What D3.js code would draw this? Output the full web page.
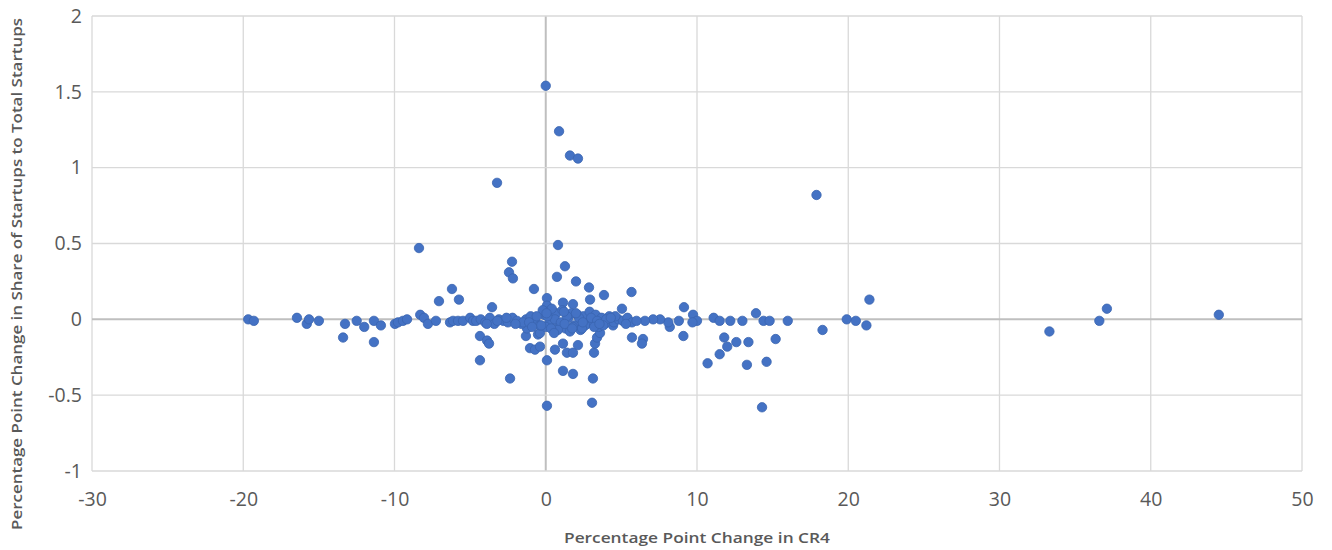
<!DOCTYPE html>
<html>
<head>
<meta charset="utf-8">
<script src="https://cdn.jsdelivr.net/npm/d3@7"></script>
<style>
  html, body { margin: 0; padding: 0; background: #fff; }
  svg { display: block; }
  text { font-family: "Open Sans", "Noto Sans", sans-serif; }
</style>
</head>
<body>
<svg id="chart" width="1332" height="550"></svg>
<script>
// ---- Data ----
const xTicks = [-30, -20, -10, 0, 10, 20, 30, 40, 50];
const xTickLabels = ["-30", "-20", "-10", "0", "10", "20", "30", "40", "50"];
const yTicks = [-1, -0.5, 0, 0.5, 1, 1.5, 2];
const yTickLabels = ["-1", "-0.5", "0", "0.5", "1", "1.5", "2"];
const xTitle = "Percentage Point Change in CR4";
const yTitle = "Percentage Point Change in Share of Startups to Total Startups";

// Change in CR4 (x) and change in startup share (y)
const cr4Change = [
  0.0, 0.88, 1.6, 2.13, -3.22, 17.9, -8.38, 0.81, -2.23, -2.43, -2.17, 1.27, 0.74, 2.0, 2.86, 3.85, 5.67,
  -6.2, -5.74, -7.06, -0.78, 0.08, 0.08, 1.14, 1.8, 2.93, 5.04, -3.55, 9.14, 9.74, 13.9,
  21.4, 19.9, 20.5, 21.2, 18.3, 33.3, 36.6, 37.1, 44.5, 16.0, 15.2, 14.6, 14.3, 13.3, 13.4, 12.6,
  14.4, 14.8, 13.0, 12.2, 10.7, 11.5, 11.8, 12.0, 11.1, 11.5, 10.0, 9.7, 9.1, 8.8, 8.2, 8.1,
  7.56, 7.1, 6.56, 6.43, 6.36, 5.7, 4.4, 4.45, 0.08, 3.06, 3.12, -2.36, -4.35, 0.08, 1.14, 1.8,
  1.4, 1.8, 0.61, 1.14, 2.13, 3.19, 3.26, 3.39, 3.59, -1.04, -0.71, -0.38, -0.51, -4.35, -3.88, -3.75,
  -1.31, -1.24, -0.38,
  -19.67, -19.3, -16.45, -15.8, -15.65, -15.0, -13.4, -13.27, -12.5, -12.0, -11.36, -11.36, -10.9,
  -9.97, -9.77, -9.44, -9.17, -8.3, -8.05, -7.79, -7.26, -6.33, -6.13, -5.8, -5.47, -5.0, -4.81,
  -4.6, -4.3, -4.0, -3.7, -3.4, -3.1, -2.8, -2.5, -2.2, -1.9, -1.6, -1.3, -1.0, -0.7, -0.4, -0.1,
  0.1, 0.3, 0.5, 0.7, 0.9, 1.1, 1.3, 1.5, 1.7, 1.9, 2.1, 2.3, 2.5, 2.7, 2.9, 3.1, 3.3, 3.5, 3.7, 3.9,
  4.2, 4.5, 4.8, 5.1, 5.4, 5.7, 6.0,
  0.2, 0.6, 1.0, 1.4, 1.8, 2.2, 2.6, 3.0, 3.4, 0.4, 1.2, 2.0, -0.2, -0.6, -1.5, -2.6, -3.2, 4.0, 4.6,
  5.3, 0.0, 0.8, 1.6, 2.4, 3.2, 3.8, -0.3, 0.1, 0.05,
  -3.9, -2.0, -1.1, 0.35, 1.25, 2.45, 3.55, 4.3, -0.9, 0.55, 1.75
];
const startupShareChange = [
  1.54, 1.24, 1.08, 1.06, 0.90, 0.82, 0.47, 0.49, 0.38, 0.31, 0.27, 0.35, 0.28, 0.25, 0.21, 0.16, 0.18,
  0.20, 0.13, 0.12, 0.20, 0.14, 0.09, 0.11, 0.10, 0.13, 0.07, 0.08, 0.08, 0.03, 0.04,
  0.13, 0.0, -0.01, -0.04, -0.07, -0.08, -0.01, 0.07, 0.03, -0.01, -0.13, -0.28, -0.58, -0.30, -0.15, -0.15,
  -0.01, -0.01, -0.01, -0.01, -0.29, -0.23, -0.12, -0.18, 0.01, -0.01, -0.01, -0.02, -0.11, -0.01, -0.05, -0.02,
  0.0, 0.0, -0.01, -0.13, -0.16, -0.12, -0.02, -0.04, -0.57, -0.55, -0.39, -0.39, -0.27, -0.27, -0.34, -0.36,
  -0.22, -0.22, -0.20, -0.16, -0.17, -0.22, -0.16, -0.12, -0.09, -0.19, -0.20, -0.18, -0.10, -0.11, -0.14, -0.16,
  -0.11, -0.06, -0.09,
  0.0, -0.01, 0.01, -0.03, 0.0, -0.01, -0.12, -0.03, -0.01, -0.05, -0.15, -0.01, -0.04,
  -0.03, -0.02, -0.01, 0.0, 0.03, 0.01, -0.03, -0.01, -0.02, -0.01, -0.01, -0.01, 0.01, -0.01,
  -0.01, 0.0, -0.02, 0.01, -0.03, 0.0, -0.01, -0.02, 0.01, -0.01, -0.03, 0.0, 0.02, -0.02, -0.04, 0.03,
  0.05, -0.05, 0.02, 0.04, -0.03, 0.06, -0.06, 0.01, 0.04, -0.04, 0.03, -0.07, 0.02, -0.03, 0.05, -0.02, 0.03, -0.05, 0.01, -0.03,
  0.02, -0.02, 0.0, -0.01, 0.01, -0.02, -0.01,
  -0.03, 0.0, -0.02, 0.02, -0.05, 0.01, -0.04, 0.01, -0.01, 0.07, 0.05, 0.04, 0.06, 0.02, -0.02, 0.01, -0.01, 0.0, 0.02,
  -0.03, -0.05, -0.07, -0.08, -0.06, -0.05, -0.04, -0.04, 0.02, 0.04,
  -0.03, -0.03, -0.02, -0.06, -0.03, -0.02, -0.03, 0.01, -0.05, -0.09, -0.06
];

const points = cr4Change.map((x, i) => ({ x, y: startupShareChange[i] }));

// ---- Layout ----
const svg = d3.select("#chart");
const margin = { left: 92, right: 30, top: 16, bottom: 79 };
const W = 1332, H = 550;

const x = d3.scaleLinear().domain([-30, 50]).range([margin.left, W - margin.right]);
const y = d3.scaleLinear().domain([-1, 2]).range([H - margin.bottom, margin.top]);

// Gridlines
const grid = svg.append("g");
grid.selectAll("line.vx").data(xTicks).join("line")
  .attr("x1", d => x(d)).attr("x2", d => x(d))
  .attr("y1", y(-1)).attr("y2", y(2))
  .attr("stroke", d => d === 0 ? "#bfbfbf" : "#d9d9d9")
  .attr("stroke-width", d => d === 0 ? 2 : 1.3);
grid.selectAll("line.hy").data(yTicks).join("line")
  .attr("x1", x(-30)).attr("x2", x(50))
  .attr("y1", d => y(d)).attr("y2", d => y(d))
  .attr("stroke", d => d === 0 ? "#bfbfbf" : "#d9d9d9")
  .attr("stroke-width", d => d === 0 ? 2 : 1.3);

// Axes (labels only)
const xAxis = d3.axisBottom(x).tickValues(xTicks).tickSize(0).tickPadding(21)
  .tickFormat((d, i) => xTickLabels[i]);
const gx = svg.append("g").attr("transform", `translate(0,${y(-1)})`).call(xAxis);
gx.select(".domain").remove();
gx.selectAll("text").attr("fill", "#595959").attr("font-size", 19.5).attr("font-family", "'Open Sans', sans-serif");

const yAxis = d3.axisLeft(y).tickValues(yTicks).tickSize(0).tickPadding(10)
  .tickFormat((d, i) => yTickLabels[i]);
const gy = svg.append("g").attr("transform", `translate(${x(-30)},0)`).call(yAxis);
gy.select(".domain").remove();
gy.selectAll("text").attr("fill", "#595959").attr("font-size", 19.5).attr("font-family", "'Open Sans', sans-serif");

// Points
svg.append("g").selectAll("circle").data(points).join("circle")
  .attr("cx", d => x(d.x)).attr("cy", d => y(d.y))
  .attr("r", 4.7)
  .attr("fill", "#4472c4")
  .attr("stroke", "#3a64b0")
  .attr("stroke-width", 0.8);

// Axis titles
svg.append("text")
  .attr("x", (x(-30) + x(50)) / 2).attr("y", 543)
  .attr("text-anchor", "middle")
  .attr("fill", "#595959").attr("font-size", 15).attr("font-weight", 600)
  .attr("textLength", 266).attr("lengthAdjust", "spacingAndGlyphs")
  .text(xTitle);

svg.append("text")
  .attr("transform", `translate(22,274) rotate(-90)`)
  .attr("text-anchor", "middle")
  .attr("fill", "#595959").attr("font-size", 15).attr("font-weight", 600)
  .attr("textLength", 512).attr("lengthAdjust", "spacingAndGlyphs")
  .text(yTitle);
</script>
</body>
</html>
